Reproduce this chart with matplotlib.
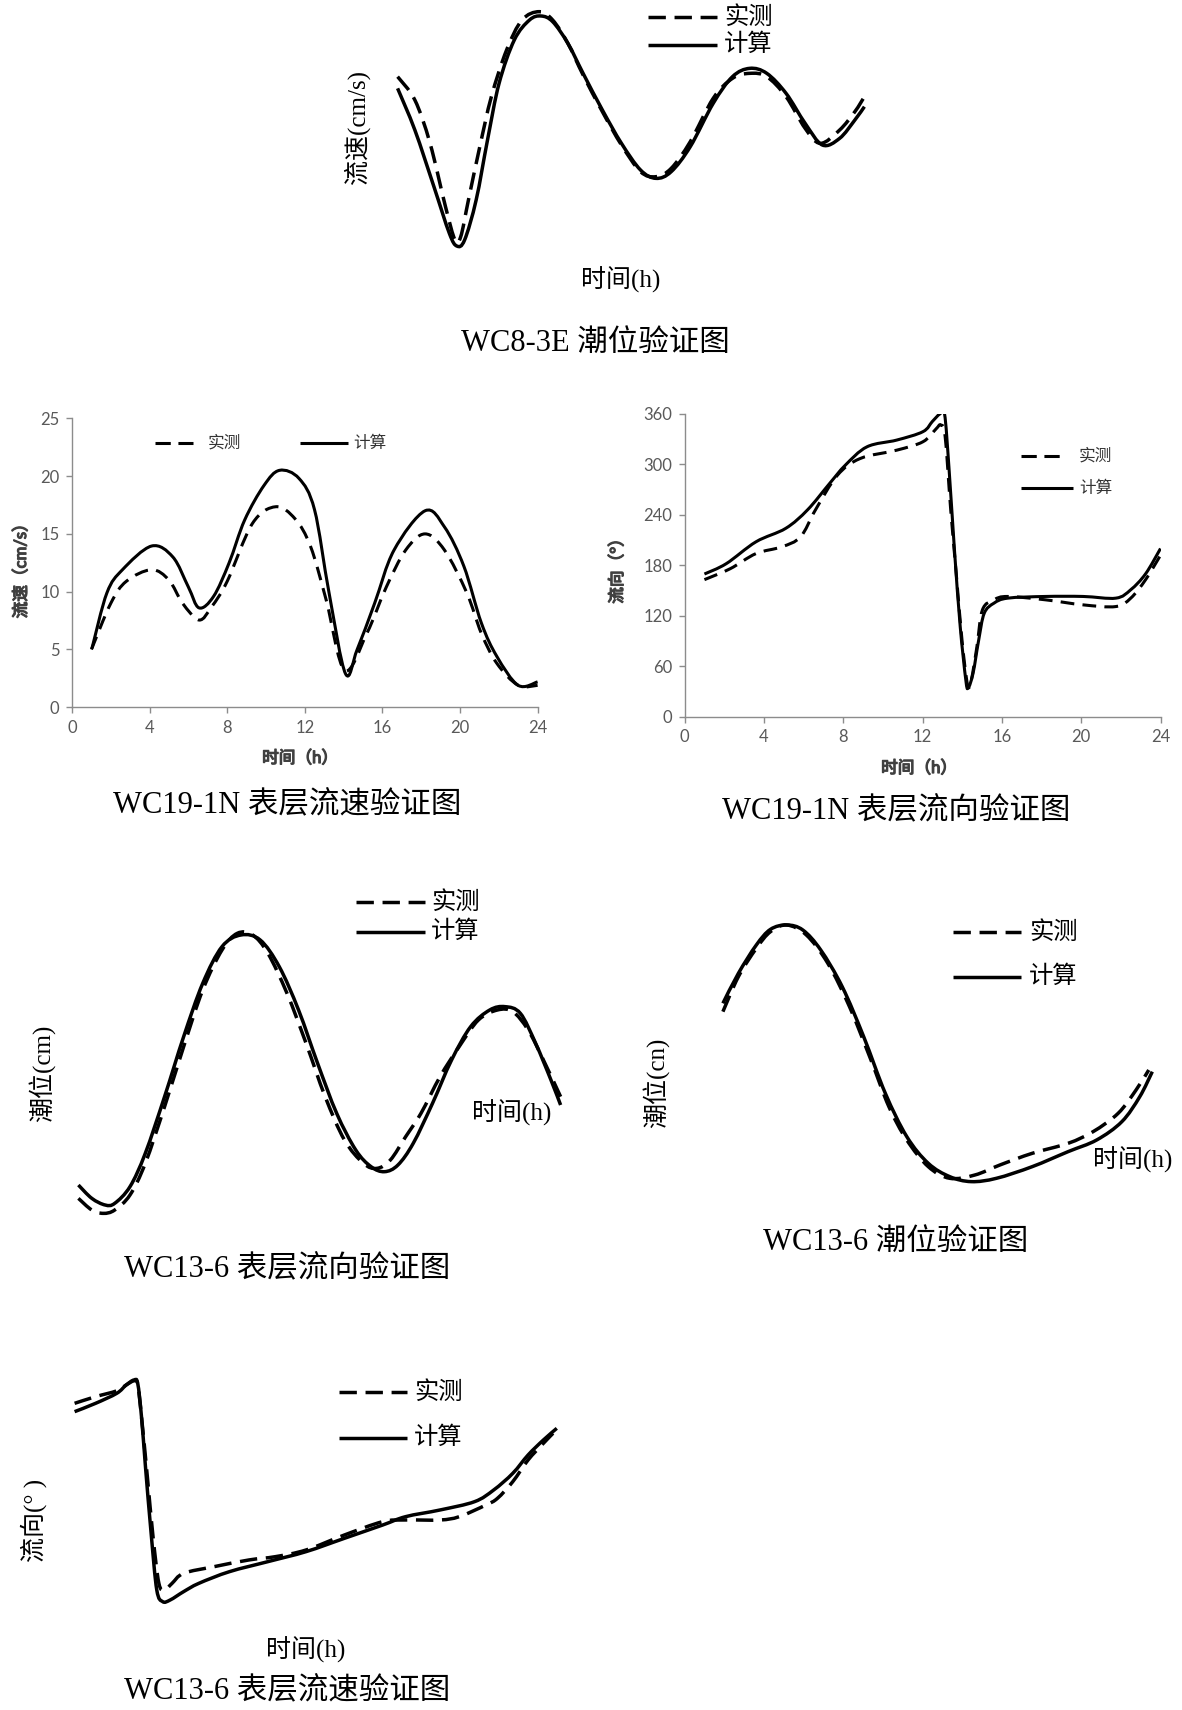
import matplotlib
matplotlib.use("Agg")
import matplotlib.pyplot as plt
import matplotlib.patheffects as pe
from matplotlib.lines import Line2D
from matplotlib.path import Path
from matplotlib.patches import PathPatch

W, H = 1182, 1710
SERIF = ['Liberation Serif', 'Noto Sans CJK SC']
SANS = ['Lato', 'Noto Sans CJK SC']

# ---- WC8-3E (no axes, arbitrary units) ----
wc83e_t_calc = [1.0, 1.85, 2.79, 3.55, 3.92, 4.30, 4.87, 5.43, 6.0, 6.75, 7.5, 8.07, 8.64, 9.39,
                10.14, 11.09, 12.03, 12.97, 13.73, 14.48, 15.42, 16.55, 17.5, 18.35, 19.19, 20.14,
                21.08, 21.93, 22.78, 23.53, 24.0]
wc83e_v_calc = [53.5, 41.0, 24.0, 10.0, 6.2, 8.0, 20.0, 38.0, 55.0, 68.0, 74.0, 75.2, 73.5, 67.0,
                58.0, 47.0, 37.0, 29.0, 26.5, 28.5, 36.0, 49.0, 57.0, 59.5, 58.0, 52.0,
                43.0, 36.5, 38.5, 44.0, 48.0]
wc83e_t_meas = [1.0, 1.85, 2.6, 3.36, 3.83, 4.11, 4.49, 5.05, 5.62, 6.37, 7.13, 7.98, 8.64, 9.39,
                10.14, 11.09, 12.03, 12.97, 13.73, 14.48, 15.42, 16.55, 17.5, 18.35, 19.19, 20.14,
                21.08, 21.83, 22.78, 23.53, 24.0]
wc83e_v_meas = [57.0, 50.0, 37.0, 18.0, 8.0, 9.0, 20.0, 36.0, 51.0, 65.0, 74.0, 76.5, 74.0, 67.0,
                57.5, 46.5, 36.5, 28.5, 27.0, 29.5, 37.5, 50.5, 56.5, 58.0, 57.0, 51.0,
                41.5, 37.0, 41.0, 46.5, 51.0]

# ---- WC19-1N speed (cm/s) ----
s19_t_calc = [1.03, 1.8, 2.6, 4.1, 5.2, 6.0, 6.55, 7.3, 8.1, 8.9, 9.9, 10.7, 11.7, 12.5, 13.25,
              14.1, 14.7, 15.6, 16.6, 18.2, 19.2, 20.2, 21.1, 21.9, 23.0, 24.0]
s19_v_calc = [5.1, 9.9, 11.9, 13.95, 13.0, 10.4, 8.6, 9.6, 12.5, 16.2, 19.2, 20.5, 19.8, 17.1, 9.9,
              2.9, 5.0, 9.0, 13.6, 17.0, 15.6, 12.2, 7.3, 4.4, 1.9, 2.2]
s19_t_meas = [1.0, 2.0, 2.8, 4.1, 5.0, 5.7, 6.55, 7.2, 8.0, 9.3, 10.5, 11.5, 12.3, 13.1, 14.05,
              15.2, 16.2, 17.2, 18.2, 19.2, 20.35, 21.1, 21.9, 23.0, 24.0]
s19_v_meas = [5.0, 9.0, 10.9, 11.9, 11.0, 9.0, 7.55, 8.7, 10.9, 15.9, 17.35, 16.3, 13.9, 9.3, 3.2,
              6.4, 10.4, 13.6, 15.0, 13.6, 9.9, 6.4, 3.8, 1.9, 1.9]

# ---- WC19-1N direction (deg) ----
d19_t_calc = [1.0, 2.1, 3.6, 5.1, 6.2, 7.3, 8.1, 9.2, 10.7, 12.02, 12.49, 12.87, 13.11, 13.33,
              13.61, 13.9, 14.18, 14.3, 14.55, 14.83, 15.11, 15.6, 16.3, 18.2, 20.1, 21.75,
              22.5, 23.25, 24.0]
d19_v_calc = [169.7, 182, 208, 224, 246, 277, 299, 321, 329, 339, 351, 360, 360, 297,
              198, 107, 44, 34, 52, 91, 123, 135, 141, 143, 143, 141,
              151, 170, 200]
d19_t_meas = [1.0, 2.3, 3.6, 4.9, 5.85, 6.6, 7.7, 8.85, 10.7, 12.02, 12.67, 12.92, 13.14, 13.42,
              13.7, 13.99, 14.27, 14.46, 14.74, 15.02, 15.6, 16.3, 18.2, 20.1, 21.75, 22.5,
              23.25, 24.0]
d19_v_meas = [163, 176, 194, 202, 214, 246, 287, 307, 317, 327, 342, 347, 333, 246,
              170, 91, 38, 44, 83, 127, 139, 143, 139, 133, 131, 141,
              163, 192]

# ---- WC13-6 (left, tide-like curve, arbitrary units) ----
l136_t_calc = [1.0, 1.64, 2.28, 2.73, 3.46, 4.19, 5.11, 6.02, 6.93, 7.85, 8.76, 9.67, 10.58, 11.5,
               12.41, 13.32, 14.23, 14.96, 15.6, 16.24, 16.97, 17.89, 18.8, 19.71, 20.62, 21.35,
               22.08, 22.81, 23.54, 24.0]
l136_v_calc = [15.5, 11.5, 9.5, 10.0, 15.0, 25.0, 42.0, 60.0, 76.0, 87.0, 90.5, 89.0, 81.0, 68.0,
               52.0, 37.0, 26.0, 21.0, 19.5, 21.5, 28.0, 40.0, 53.0, 63.0, 68.0, 69.0,
               67.0, 58.0, 47.0, 39.5]
l136_t_meas = [1.0, 1.64, 2.19, 2.73, 3.46, 4.19, 5.11, 6.02, 6.93, 7.85, 8.58, 9.31, 10.04, 10.95,
               11.86, 12.77, 13.69, 14.6, 15.24, 15.88, 16.61, 17.34, 18.25, 19.16, 20.08, 20.99,
               21.72, 22.45, 23.18, 24.0]
l136_v_meas = [11.5, 8.0, 7.0, 8.0, 12.5, 22.0, 39.0, 57.0, 74.0, 86.0, 91.0, 90.5, 85.0, 73.0,
               58.0, 42.0, 29.0, 22.0, 20.5, 23.0, 30.0, 37.0, 48.0, 57.0, 65.0, 68.0,
               67.5, 62.0, 53.0, 42.0]

# ---- WC13-6 tide (arbitrary units) ----
t136_t_calc = [1.0, 1.83, 2.79, 3.55, 4.42, 5.28, 6.24, 7.39, 8.54, 9.7, 10.85, 12.0, 13.15, 14.3,
               15.65, 17.57, 19.49, 21.02, 22.37, 23.33, 24.0]
t136_v_calc = [63.0, 72.0, 80.5, 85.2, 86.5, 85.0, 79.0, 68.0, 53.0, 36.0, 23.0, 15.0, 11.0, 9.5,
               10.5, 14.0, 18.5, 22.0, 27.5, 35.0, 42.5]
t136_t_meas = [1.0, 1.83, 2.79, 3.55, 4.42, 5.47, 6.62, 7.78, 8.93, 9.89, 10.85, 12.0, 13.15, 14.5,
               15.84, 17.57, 19.49, 20.83, 22.17, 23.13, 23.81]
t136_v_meas = [60.5, 71.0, 79.5, 84.5, 86.5, 83.5, 75.0, 62.0, 46.0, 32.0, 22.0, 14.0, 10.5, 11.5,
               14.5, 18.0, 21.0, 24.5, 30.0, 37.0, 43.0]

# ---- WC13-6 bottom (direction-like, arbitrary units) ----
b136_t_calc = [1.0, 2.0, 3.01, 3.46, 3.83, 4.01, 4.19, 4.38, 4.65, 4.92, 5.2, 5.56, 6.2, 6.93,
               8.39, 10.22, 12.04, 13.87, 15.7, 16.79, 18.43, 20.08, 20.99, 21.9, 22.63, 23.36, 24.0]
b136_v_calc = [266, 276, 288, 298, 304, 300, 260, 200, 120, 52, 38, 40, 50, 60,
               74, 86, 98, 114, 130, 140, 148, 158, 172, 192, 214, 232, 246]
b136_t_meas = [1.0, 2.0, 3.01, 3.46, 3.83, 4.01, 4.19, 4.47, 4.74, 5.02, 5.29, 5.65, 6.2, 7.66,
               9.31, 10.58, 12.04, 13.87, 15.7, 16.79, 18.43, 19.35, 20.62, 21.17, 21.9, 22.63,
               23.36, 23.82]
b136_v_meas = [276, 284, 291, 298, 303, 299, 260, 188, 116, 60, 52, 60, 72, 80,
               88, 92, 100, 118, 134, 136, 136, 140, 154, 162, 182, 208, 228, 240]


def smooth_path(t, v):
    # Excel-style "smoothed line": cubic Bezier segments through the points
    pts = list(zip(t, v))
    n = len(pts)
    verts = [pts[0]]
    codes = [Path.MOVETO]
    for i in range(n - 1):
        p0 = pts[max(i - 1, 0)]
        p1 = pts[i]
        p2 = pts[i + 1]
        p3 = pts[min(i + 2, n - 1)]
        c1 = (p1[0] + (p2[0] - p0[0]) / 6, p1[1] + (p2[1] - p0[1]) / 6)
        c2 = (p2[0] - (p3[0] - p1[0]) / 6, p2[1] - (p3[1] - p1[1]) / 6)
        verts += [c1, c2, p2]
        codes += [Path.CURVE4] * 3
    return Path(verts, codes)


def draw_curve(ax, t, v, lw, dashes=None, clip=False):
    patch = PathPatch(smooth_path(t, v), fill=False, edgecolor='black', lw=lw,
                      capstyle='butt', joinstyle='round', clip_on=clip)
    if dashes:
        patch.set_linestyle((0, dashes))
    ax.add_patch(patch)


def px_axes(fig, x0, y_top, x1, y_bot):
    return fig.add_axes([x0 / W, 1 - y_bot / H, (x1 - x0) / W, (y_bot - y_top) / H])


def ftext(fig, x, y, s, size, family=SERIF, **kw):
    return fig.text(x / W, 1 - y / H, s, fontsize=size, family=family, va='center', **kw)


def fline(fig, x0, x1, y, dashed, lw):
    ln = Line2D([x0 / W, x1 / W], [1 - y / H, 1 - y / H], transform=fig.transFigure,
                color='black', lw=lw, solid_capstyle='butt', dash_capstyle='butt')
    if dashed:
        ln.set_dashes((5, 2.5))
    fig.add_artist(ln)


def bare_panel(fig, box, ylim, t_m, v_m, t_c, v_c):
    ax = px_axes(fig, *box)
    ax.set_xlim(1, 24)
    ax.set_ylim(*ylim)
    ax.axis('off')
    draw_curve(ax, t_m, v_m, 2.5, (5, 2.5))
    draw_curve(ax, t_c, v_c, 2.5)
    return ax


def excel_panel(fig, box, xmax, ymax, ystep, t_m, v_m, t_c, v_c):
    ax = px_axes(fig, *box)
    draw_curve(ax, t_m, v_m, 2.2, (4.5, 2.7), clip=True)
    draw_curve(ax, t_c, v_c, 2.2, clip=True)
    ax.set_xlim(0, xmax)
    ax.set_ylim(0, ymax)
    ax.set_xticks(range(0, xmax + 1, 4))
    ax.set_yticks(range(0, ymax + 1, ystep))
    for s in ('top', 'right'):
        ax.spines[s].set_visible(False)
    for s in ('left', 'bottom'):
        ax.spines[s].set_color('#8c8c8c')
        ax.spines[s].set_linewidth(1.0)
    ax.tick_params(direction='out', length=4, width=1, color='#8c8c8c',
                   labelcolor='#595959', labelsize=12, pad=5)
    for lab in ax.get_xticklabels() + ax.get_yticklabels():
        lab.set_family(SANS)
    return ax


BOLD = [pe.withStroke(linewidth=0.9, foreground='#404040')]

fig = plt.figure(figsize=(W / 100, H / 100), dpi=100)

# WC8-3E
bare_panel(fig, (397.6, 0, 864.4, 266.7), (0, 80), wc83e_t_meas, wc83e_v_meas,
           wc83e_t_calc, wc83e_v_calc)
fline(fig, 648, 717, 17, True, 2.5)
fline(fig, 648, 717, 45, False, 2.5)
ftext(fig, 724, 17, '实测', 17.5, ha='left')
ftext(fig, 724, 45, '计算', 17.5, ha='left')
ftext(fig, 357, 127, '流速(cm/s)', 18, ha='center', rotation=90)
ftext(fig, 621, 280, '时间(h)', 18, ha='center')
ftext(fig, 595, 343, 'WC8-3E 潮位验证图', 22, ha='center')

# WC19-1N speed
excel_panel(fig, (72, 418.3, 537.6, 707.3), 24, 25, 5, s19_t_meas, s19_v_meas,
            s19_t_calc, s19_v_calc)
fline(fig, 155, 193, 443, True, 2.2)
fline(fig, 300, 348, 443, False, 2.2)
ftext(fig, 208, 443, '实测', 12, family=SANS, ha='left', color='#333333')
ftext(fig, 353, 443, '计算', 12, family=SANS, ha='left', color='#333333')
ftext(fig, 300, 758, '时间（h）', 12, family=SANS, ha='center', color='#404040',
      path_effects=BOLD)
ftext(fig, 21, 567, '流速（cm/s）', 12, family=SANS, ha='center', rotation=90,
      color='#404040', path_effects=BOLD)
ftext(fig, 287, 806, 'WC19-1N 表层流速验证图', 22, ha='center')

# WC19-1N direction
excel_panel(fig, (684.6, 414, 1160.5, 716.7), 24, 360, 60, d19_t_meas, d19_v_meas,
            d19_t_calc, d19_v_calc)
fline(fig, 1021, 1060, 456, True, 2.2)
fline(fig, 1021, 1073, 488, False, 2.2)
ftext(fig, 1079, 456, '实测', 12, family=SANS, ha='left', color='#333333')
ftext(fig, 1079, 488, '计算', 12, family=SANS, ha='left', color='#333333')
ftext(fig, 919, 768, '时间（h）', 12, family=SANS, ha='center', color='#404040',
      path_effects=BOLD)
ftext(fig, 617, 567, '流向（°）', 12, family=SANS, ha='center', rotation=90,
      color='#404040', path_effects=BOLD)
ftext(fig, 896, 812, 'WC19-1N 表层流向验证图', 22, ha='center')

# WC13-6 left
bare_panel(fig, (78.4, 903.3, 560.6, 1236.7), (0, 100), l136_t_meas, l136_v_meas,
           l136_t_calc, l136_v_calc)
fline(fig, 356, 425, 902, True, 2.5)
fline(fig, 356, 425, 932, False, 2.5)
ftext(fig, 431, 902, '实测', 17.5, ha='left')
ftext(fig, 431, 932, '计算', 17.5, ha='left')
ftext(fig, 42, 1073, '潮位(cm)', 18, ha='center', rotation=90)
ftext(fig, 512, 1113, '时间(h)', 18, ha='center')
ftext(fig, 287, 1270, 'WC13-6 表层流向验证图', 22, ha='center')

# WC13-6 tide
bare_panel(fig, (722.9, 880, 1152.3, 1213.3), (0, 100), t136_t_meas, t136_v_meas,
           t136_t_calc, t136_v_calc)
fline(fig, 953, 1021, 932, True, 2.5)
fline(fig, 953, 1021, 977, False, 2.5)
ftext(fig, 1029, 932, '实测', 17.5, ha='left')
ftext(fig, 1029, 977, '计算', 17.5, ha='left')
ftext(fig, 656, 1083, '潮位(cn)', 18, ha='center', rotation=90)
ftext(fig, 1133, 1160, '时间(h)', 18, ha='center')
ftext(fig, 896, 1242, 'WC13-6 潮位验证图', 22, ha='center')

# WC13-6 bottom
bare_panel(fig, (74.6, 1350, 556.8, 1633.3), (0, 340), b136_t_meas, b136_v_meas,
           b136_t_calc, b136_v_calc)
fline(fig, 339, 407, 1392, True, 2.5)
fline(fig, 339, 407, 1438, False, 2.5)
ftext(fig, 414, 1392, '实测', 17.5, ha='left')
ftext(fig, 414, 1438, '计算', 17.5, ha='left')
ftext(fig, 34, 1520, '流向(° )', 18, ha='center', rotation=90)
ftext(fig, 306, 1650, '时间(h)', 18, ha='center')
ftext(fig, 287, 1692, 'WC13-6 表层流速验证图', 22, ha='center')

fig.savefig('out.png', dpi=100)
